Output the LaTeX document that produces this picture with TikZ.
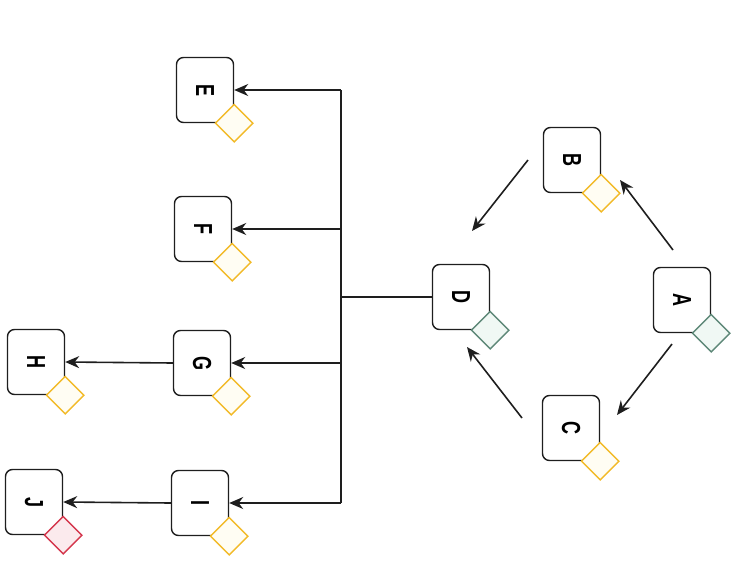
\documentclass[tikz,border=0pt]{standalone}
\usepackage{fontspec}
\setmainfont{Liberation Sans}
\usetikzlibrary{shapes.geometric,arrows.meta}
\definecolor{ink}{HTML}{1E1E1E}
\definecolor{ylw}{HTML}{F2BA28}
\definecolor{ylwf}{HTML}{FFFDF3}
\definecolor{tel}{HTML}{5E8878}
\definecolor{telf}{HTML}{F0F8F4}
\definecolor{rd}{HTML}{D4364C}
\definecolor{rdf}{HTML}{FBEAED}
\newcommand{\rlet}[1]{\rotatebox{-90}{\scalebox{1}[1.45]{\fontsize{18}{18}\selectfont\bfseries #1}}}
\tikzset{
  box/.style={draw=ink, line width=1.4pt, rounded corners=7pt, fill=white,
    minimum width=57pt, minimum height=65pt, inner sep=0pt},
  dia/.style={diamond, line width=1.4pt, minimum width=38pt, minimum height=38pt, inner sep=0pt},
  dy/.style={dia, draw=ylw, fill=ylwf},
  dt/.style={dia, draw=tel, fill=telf},
  dr/.style={dia, draw=rd, fill=rdf},
  conn/.style={draw=ink, line width=1.6pt},
  arr/.style={conn, -{Stealth[length=14pt,width=12pt]}}
}
\begin{document}
\begin{tikzpicture}[x=1pt,y=-1pt]
\useasboundingbox (0,0) rectangle (731,571);
% boxes
\node[box] (A) at (682,300) {\rlet{A}};
\node[box] (B) at (572,160) {\rlet{B}};
\node[box] (C) at (571,428) {\rlet{C}};
\node[box] (D) at (461,297) {\rlet{D}};
\node[box] (E) at (205,90) {\rlet{E}};
\node[box] (F) at (203,229) {\rlet{F}};
\node[box] (G) at (202,363) {\rlet{G}};
\node[box] (H) at (36,362) {\rlet{H}};
\node[box] (I) at (200,503) {\rlet{I}};
\node[box] (J) at (34,502) {\rlet{J}};
% diamonds
\node[dt] (dA) at (A.south east) {};
\node[dy] (dB) at (B.south east) {};
\node[dy] (dC) at (C.south east) {};
\node[dt] (dD) at (D.south east) {};
\node[dy] (dE) at (E.south east) {};
\node[dy] (dF) at (F.south east) {};
\node[dy] (dG) at (G.south east) {};
\node[dy] (dH) at (H.south east) {};
\node[dy] (dI) at (I.south east) {};
\node[dr] (dJ) at (J.south east) {};
% free arrows
\coordinate (ab1) at (673,250); \coordinate (ab2) at (620,180);
\coordinate (ac1) at (672,344); \coordinate (ac2) at (617,415);
\coordinate (bd1) at (528,160); \coordinate (bd2) at (472,231);
\coordinate (cd1) at (522,418); \coordinate (cd2) at (467,347);
\draw[arr] (ab1) -- (ab2);
\draw[arr] (ac1) -- (ac2);
\draw[arr] (bd1) -- (bd2);
\draw[arr] (cd1) -- (cd2);
% trunk
\coordinate (tD) at (341,297);
\coordinate (tE) at (341,90);
\coordinate (tF) at (341,229);
\coordinate (tG) at (341,363);
\coordinate (tI) at (341,503);
\draw[conn] (D.west) -- (tD);
\draw[conn] (tE) -- (tI);
\draw[arr] (tE) -- (E.east);
\draw[arr] (tF) -- (F.east);
\draw[arr] (tG) -- (G.east);
\draw[arr] (tI) -- (I.east);
\draw[arr] (G.west) -- (H.east);
\draw[arr] (I.west) -- (J.east);
\end{tikzpicture}
\end{document}
